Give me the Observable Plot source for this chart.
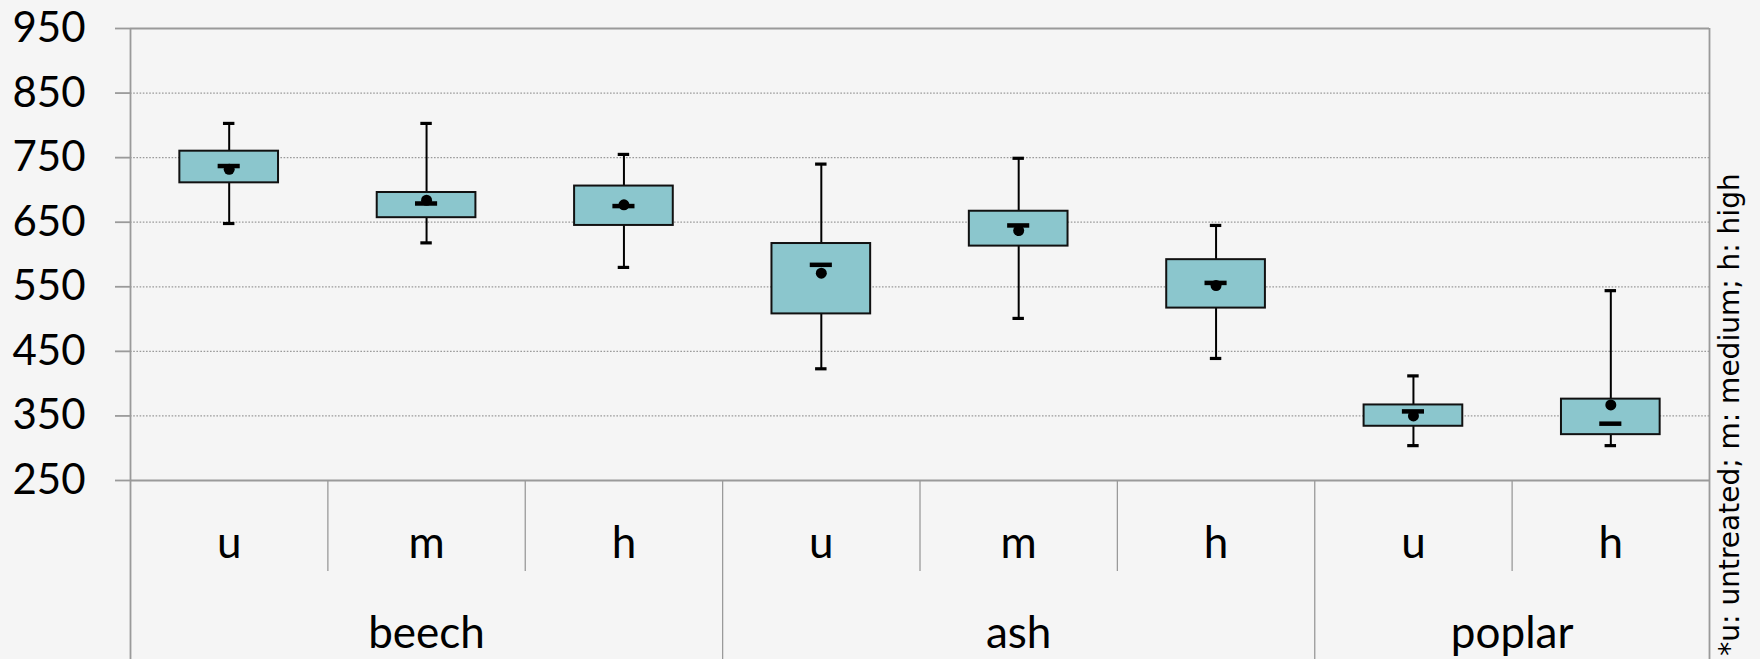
<!DOCTYPE html>
<html>
<head>
<meta charset="utf-8">
<script src="https://cdn.jsdelivr.net/npm/d3@7"></script>
<script src="https://cdn.jsdelivr.net/npm/@observablehq/plot@0.6"></script>
<style>
  html, body { margin: 0; padding: 0; background: #f5f5f5; }
  #chart svg { display: block; }
</style>
</head>
<body>
<div id="chart"></div>
<script>
// Wood species and treatment level of each box, in drawing order
const species = ["beech", "beech", "beech", "ash", "ash", "ash", "poplar", "poplar"];
const treatment = ["u", "m", "h", "u", "m", "h", "u", "h"];

// Box plot statistics (density values)
const whiskerLow  = [648, 618, 580, 423, 501, 439, 304, 304];
const quartile1   = [711, 657, 645, 508, 613, 517, 334, 321];
const median      = [737, 679, 675, 584, 645, 556, 357, 338];
const mean        = [732, 684, 677, 571, 637, 552, 350, 367];
const quartile3   = [760, 696, 706, 617, 667, 592, 367, 376];
const whiskerHigh = [803, 803, 755, 740, 749, 645, 412, 544];

// Value axis ticks
const yTicks = [250, 350, 450, 550, 650, 750, 850, 950];

const note = "*u: untreated; m: medium; h: high";

// One row per box; the slot index positions it along x
const rows = species.map((s, i) => ({
  i, species: s, treatment: treatment[i],
  lo: whiskerLow[i], q1: quartile1[i], med: median[i],
  mean: mean[i], q3: quartile3[i], hi: whiskerHigh[i]
}));

// Group spans along x, derived from consecutive species runs
const groups = [];
species.forEach((s, i) => {
  const g = groups[groups.length - 1];
  if (g && g.species === s) g.end = i + 1;
  else groups.push({species: s, start: i, end: i + 1});
});
const groupEdges = groups.slice(1).map(g => g.start);
const innerEdges = d3.range(1, species.length).filter(k => !groupEdges.includes(k));

const boxHalf = 0.25, medianHalf = 0.056, capHalf = 0.029;
const fillColor = "#8bc6cd";
const axisGray = "#9a9a9a";

const W = 1760, H = 659;
const plotTop = 28, plotBottom = 480;

const chart = Plot.plot({
  width: W,
  height: H,
  marginTop: plotTop,
  marginBottom: 0,
  marginLeft: 130,
  marginRight: 51,
  style: {background: "#f5f5f5", fontFamily: "Lato, sans-serif", color: "black", overflow: "visible"},
  x: {type: "linear", domain: [0, species.length], axis: null},
  y: {domain: [250, 950], range: [plotBottom, plotTop], axis: null},
  marks: [
    // dotted horizontal gridlines
    Plot.ruleY(yTicks.slice(1, -1), {stroke: axisGray, strokeWidth: 1.3, strokeDasharray: "1.6,1.6"}),
    // top frame and baseline
    Plot.ruleY([yTicks[0], yTicks[yTicks.length - 1]], {stroke: axisGray, strokeWidth: 1.8}),
    // left axis and right frame, running to the bottom edge
    Plot.ruleX([0, species.length], {stroke: axisGray, strokeWidth: 1.8}),
    // separators between species groups in the category area
    Plot.ruleX(groupEdges, {stroke: axisGray, strokeWidth: 1.3, insetTop: plotBottom - plotTop}),
    // separators between treatments inside a group
    Plot.ruleX(innerEdges, {stroke: axisGray, strokeWidth: 1.3, insetTop: plotBottom - plotTop, insetBottom: H - 571}),
    Plot.axisY({
      ticks: yTicks, tickSize: 15, tickPadding: 30, tickFormat: d => String(d),
      stroke: axisGray, strokeWidth: 1.8, fill: "black", fontSize: 42, fontFamily: "Lato, sans-serif"
    }),
    // whiskers
    Plot.ruleX(rows, {x: d => d.i + 0.5, y1: "lo", y2: "hi", stroke: "black", strokeWidth: 2}),
    // whisker caps
    Plot.ruleY(rows, {y: "lo", x1: d => d.i + 0.5 - capHalf, x2: d => d.i + 0.5 + capHalf, stroke: "black", strokeWidth: 3.2}),
    Plot.ruleY(rows, {y: "hi", x1: d => d.i + 0.5 - capHalf, x2: d => d.i + 0.5 + capHalf, stroke: "black", strokeWidth: 3.2}),
    // interquartile boxes
    Plot.rectY(rows, {x1: d => d.i + 0.5 - boxHalf, x2: d => d.i + 0.5 + boxHalf, y1: "q1", y2: "q3", fill: fillColor, stroke: "#111", strokeWidth: 2}),
    // median bars
    Plot.ruleY(rows, {y: "med", x1: d => d.i + 0.5 - medianHalf, x2: d => d.i + 0.5 + medianHalf, stroke: "black", strokeWidth: 4.5}),
    // means
    Plot.dot(rows, {x: d => d.i + 0.5, y: "mean", r: 5.5, fill: "black", stroke: null}),
    // treatment labels
    Plot.text(rows, {x: d => d.i + 0.5, text: "treatment", frameAnchor: "bottom", lineAnchor: "bottom", dy: 557 - H, fontSize: 44, fill: "black"}),
    // species labels
    Plot.text(groups, {x: d => (d.start + d.end) / 2, text: "species", frameAnchor: "bottom", lineAnchor: "bottom", dy: 647 - H, fontSize: 44, fill: "black"}),
    // legend note for the treatment codes
    Plot.text([note], {frameAnchor: "right", text: d => d, rotate: -90, textAnchor: "middle", lineAnchor: "bottom", dx: 29, dy: 414 - (plotTop + H) / 2, fontSize: 28, fontFamily: "DejaVu Sans, sans-serif", fill: "black"})
  ]
});

document.getElementById("chart").append(chart);
</script>
</body>
</html>
